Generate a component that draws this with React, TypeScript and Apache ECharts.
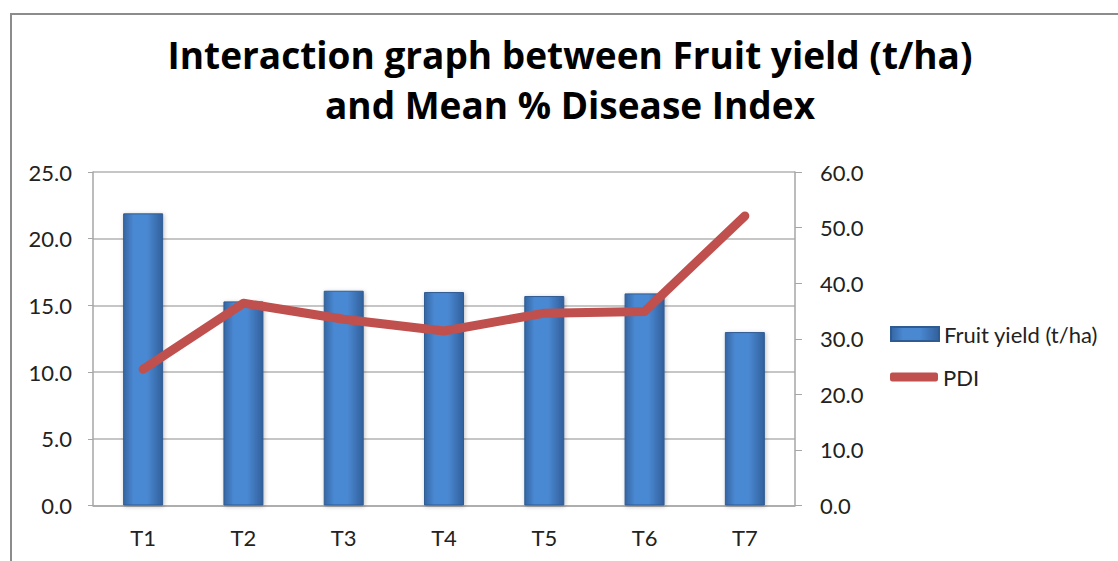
import React, { useEffect, useRef } from "react";
import * as echarts from "echarts";

const categories = ["T1", "T2", "T3", "T4", "T5", "T6", "T7"];
const fruitYield = [21.9, 15.3, 16.1, 16.0, 15.7, 15.9, 13.0];
const pdi = [24.5, 36.4, 33.5, 31.4, 34.6, 34.9, 52.1];
const titleLines = ["Interaction graph between Fruit yield (t/ha)", "and Mean % Disease Index"];
const seriesNames = ["Fruit yield (t/ha)", "PDI"];

export default function App() {
  const ref = useRef<HTMLDivElement>(null);
  useEffect(() => {
    const chart = echarts.init(ref.current!, null, { renderer: "svg" });
    const labelFont = { fontFamily: "Lato, 'Open Sans', sans-serif", fontSize: 22, color: "#222" };
    chart.setOption({
      animation: false,
      backgroundColor: "#fff",
      title: {
        text: titleLines.join("\n"),
        left: 565,
        textAlign: "center",
        top: 24,
        textStyle: {
          fontFamily: "'Open Sans', Lato, sans-serif",
          fontWeight: "bold",
          fontSize: 37,
          lineHeight: 50,
          color: "#000",
        },
      },
      graphic: [
        {
          type: "polyline",
          shape: { points: [[11, 561], [11, 14], [1118, 14]] },
          style: { stroke: "#8c8c8c", lineWidth: 2, fill: "none" },
          z: 10,
        },
      ],
      legend: [
        {
          orient: "vertical",
          left: 885,
          top: 318,
          itemWidth: 48,
          itemHeight: 14,
          textStyle: labelFont,
          data: [{ name: seriesNames[0], icon: "rect" }],
        },
        {
          orient: "vertical",
          left: 885,
          top: 361,
          itemWidth: 48,
          itemHeight: 9,
          textStyle: labelFont,
          data: [{ name: seriesNames[1], icon: "roundRect" }],
        },
      ],
      grid: { left: 93, right: 323, top: 172, bottom: 55.5 },
      xAxis: {
        type: "category",
        data: categories,
        axisLine: { lineStyle: { color: "#a6a6a6", width: 1.5 } },
        axisTick: { show: false },
        axisLabel: { ...labelFont, margin: 21 },
      },
      yAxis: [
        {
          type: "value",
          min: 0,
          max: 25,
          interval: 5,
          axisLine: { show: true, lineStyle: { color: "#a6a6a6", width: 1.5 } },
          axisTick: { show: true, length: 5, lineStyle: { color: "#a6a6a6" } },
          splitLine: { lineStyle: { color: "#b3b3b3", width: 1.5 } },
          axisLabel: { ...labelFont, margin: 21, formatter: (v: number) => v.toFixed(1) },
        },
        {
          type: "value",
          min: 0,
          max: 60,
          interval: 10,
          position: "right",
          axisLine: { show: true, lineStyle: { color: "#a6a6a6", width: 1.5 } },
          axisTick: { show: true, length: 7, lineStyle: { color: "#a6a6a6" } },
          splitLine: { show: false },
          axisLabel: { ...labelFont, margin: 25, formatter: (v: number) => v.toFixed(1) },
        },
      ],
      series: [
        {
          name: seriesNames[0],
          type: "bar",
          data: fruitYield,
          barWidth: 40,
          itemStyle: {
            color: new echarts.graphic.LinearGradient(0, 0, 1, 0, [
              { offset: 0, color: "#3566a3" },
              { offset: 0.25, color: "#4a88d2" },
              { offset: 0.6, color: "#4a88d2" },
              { offset: 1, color: "#32609c" },
            ]),
            borderColor: "#2f5b93",
            borderWidth: 1,
            shadowColor: "rgba(0,0,0,0.25)",
            shadowBlur: 4,
            shadowOffsetX: 1,
            shadowOffsetY: 1,
          },
        },
        {
          name: seriesNames[1],
          type: "line",
          yAxisIndex: 1,
          data: pdi,
          symbol: "none",
          lineStyle: { color: "#c0504d", width: 9, cap: "round", join: "round" },
          itemStyle: { color: "#c0504d" },
          z: 5,
        },
      ],
    });
    return () => chart.dispose();
  }, []);
  return <div ref={ref} style={{ width: 1118, height: 561, position: "absolute", left: 0, top: 0 }} />;
}
